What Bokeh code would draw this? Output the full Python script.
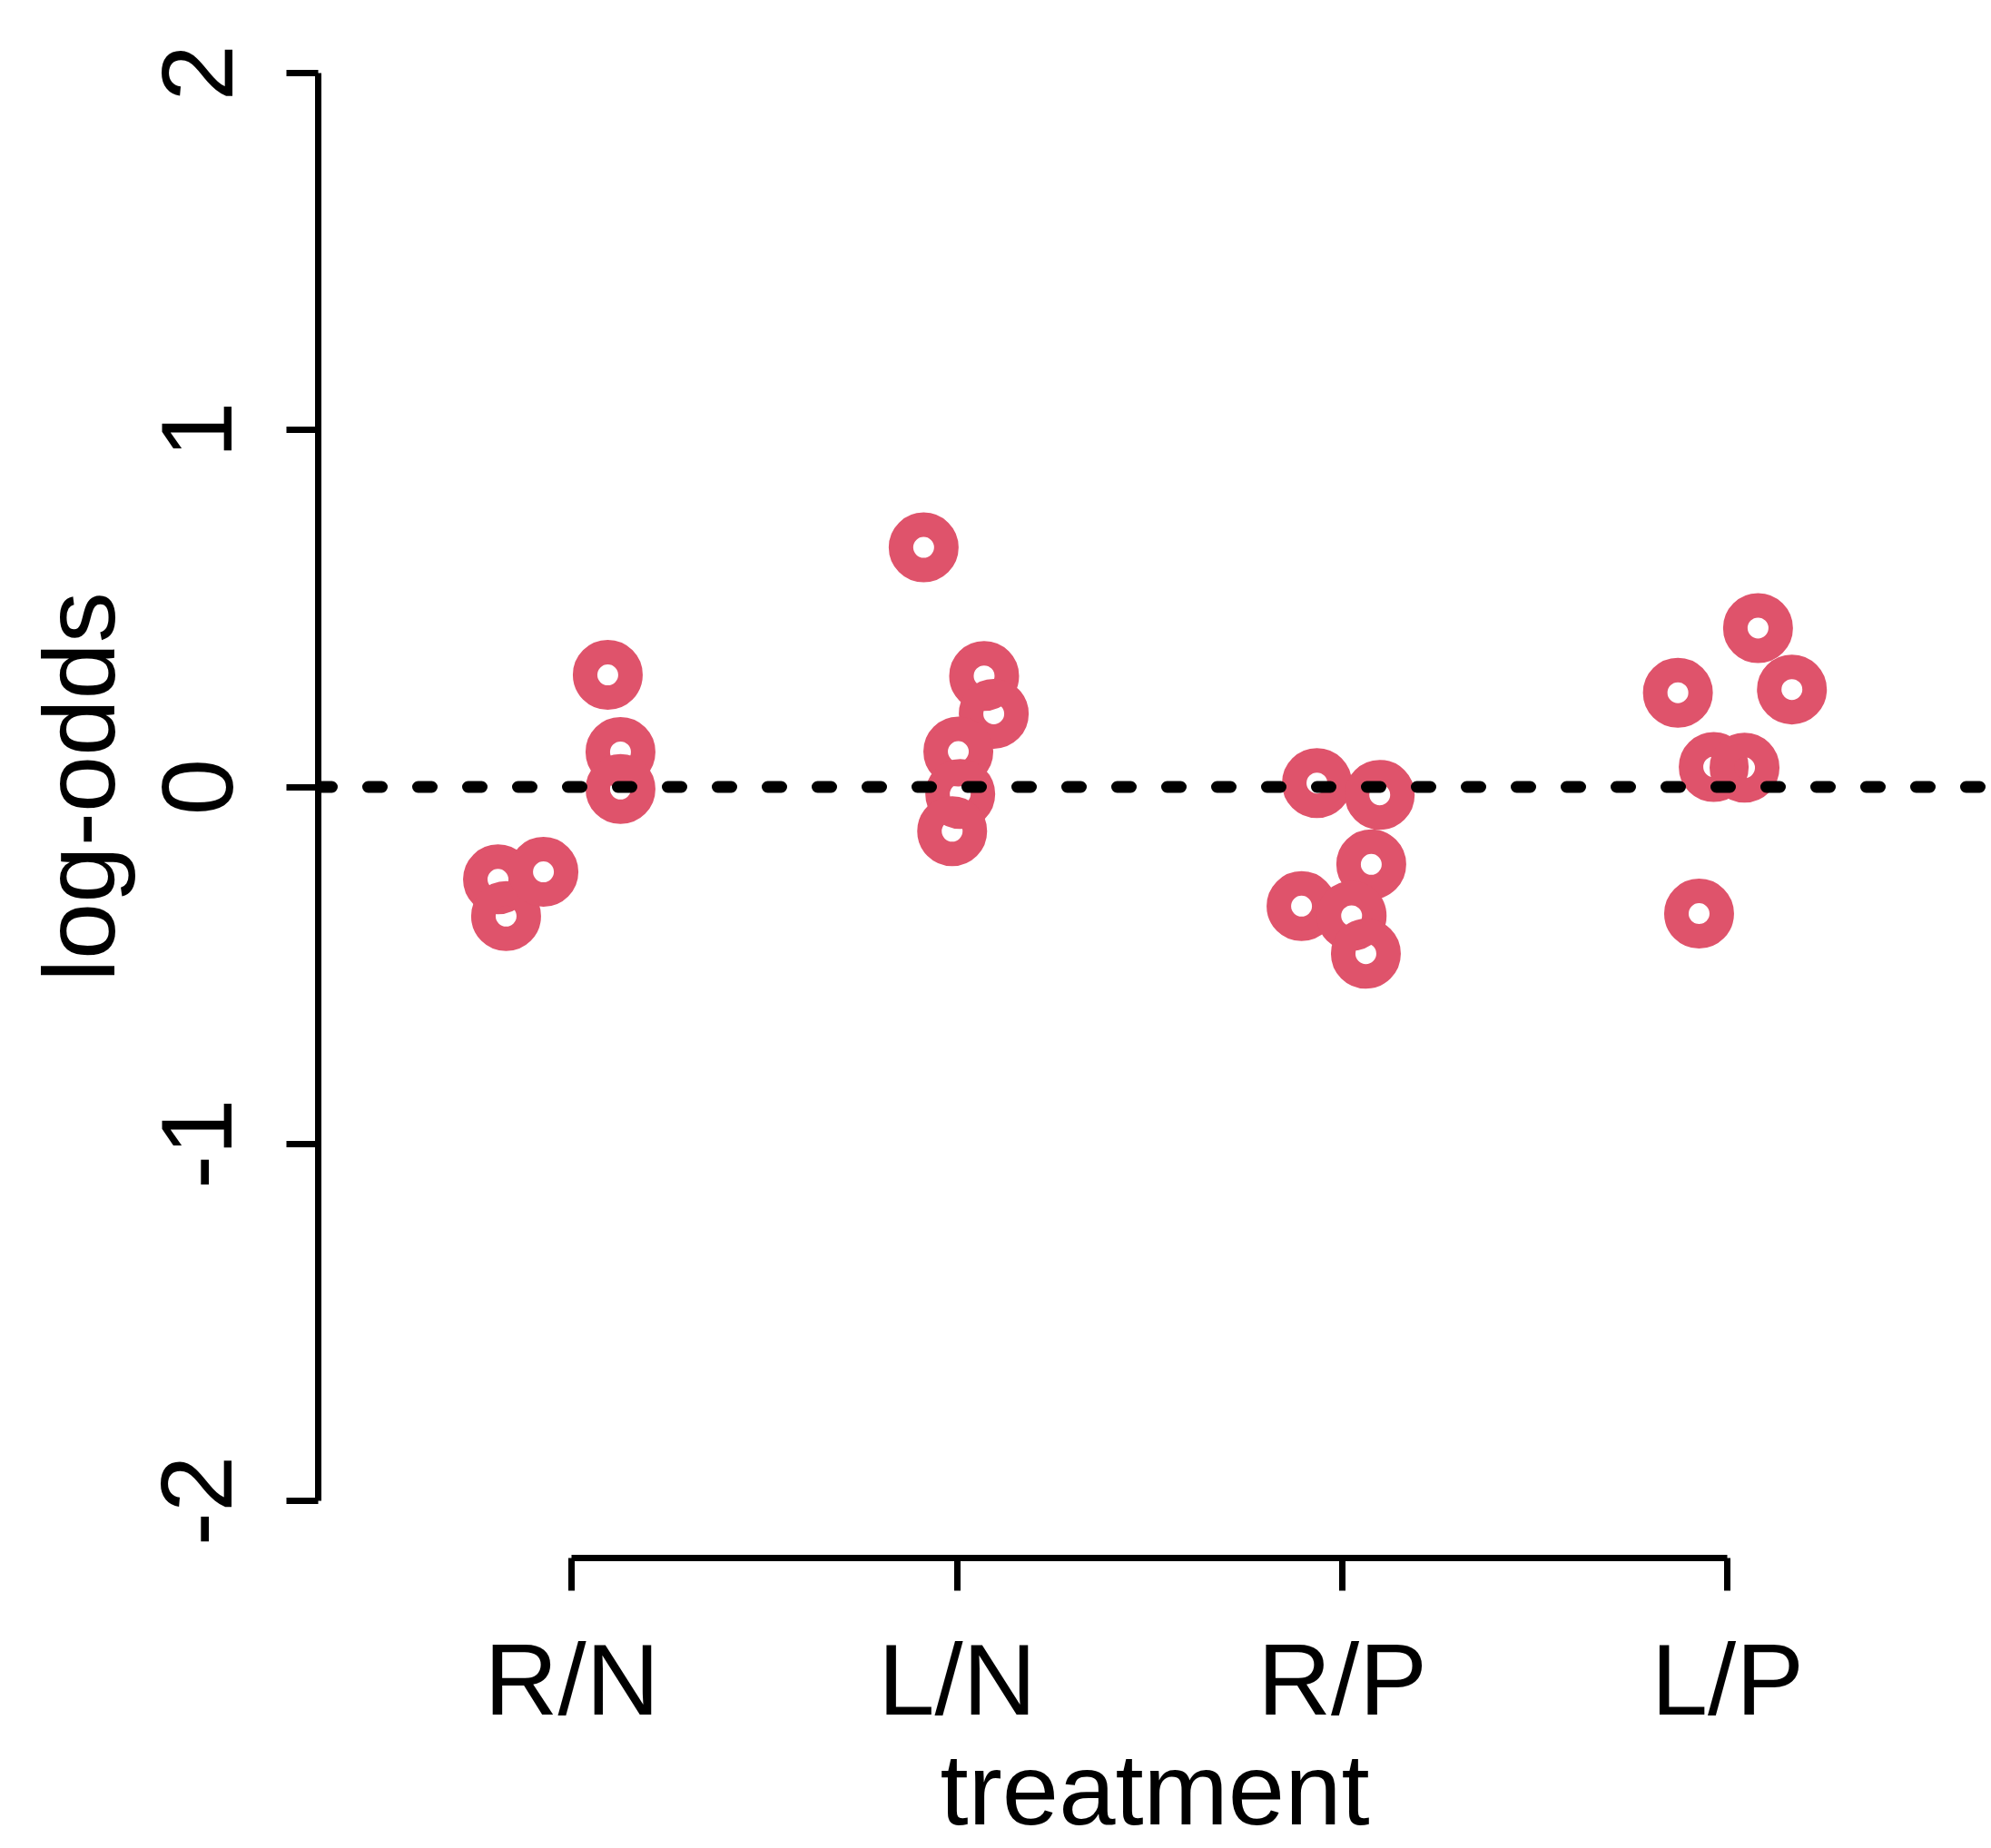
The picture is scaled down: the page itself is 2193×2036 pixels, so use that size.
from bokeh.plotting import figure
from bokeh.models import Range1d, FixedTicker, Span
from bokeh.embed import file_html
from bokeh.resources import INLINE

# treatment groups and their positions on the horizontal axis
treatments = ["R/N", "L/N", "R/P", "L/P"]
treatment_pos = [1, 2, 3, 4]

# jittered horizontal positions and log-odds for each observation
pos_RN = [0.808, 0.829, 0.926, 1.093, 1.126, 1.126]
lo_RN = [-0.259, -0.362, -0.238, 0.314, 0.098, -0.006]

pos_LN = [1.913, 2.070, 2.095, 2.003, 2.008, 1.987]
lo_LN = [0.671, 0.311, 0.205, 0.099, -0.020, -0.124]

pos_RP = [2.934, 3.097, 3.075, 2.894, 3.024, 3.061]
lo_RP = [0.011, -0.022, -0.217, -0.334, -0.361, -0.467]

pos_LP = [3.871, 4.079, 4.167, 3.964, 4.044, 3.926]
lo_LP = [0.264, 0.445, 0.273, 0.056, 0.054, -0.355]

y_ticks = [-2, -1, 0, 1, 2]
y_tick_labels = ["-2", "-1", "0", "1", "2"]

FONT = "Liberation Sans"
FS = "112px"
POINT_COLOR = "#DF536B"

p = figure(
    width=2193, height=2036,
    output_backend="svg", toolbar_location=None,
    x_range=Range1d(0.3413, 4.685), y_range=Range1d(-2.16, 2.16),
    min_border_left=350, min_border_right=0,
    min_border_top=17, min_border_bottom=320,
)
p.outline_line_color = None
p.xgrid.visible = False
p.ygrid.visible = False
p.background_fill_color = "white"
p.border_fill_color = "white"

for ax in (p.xaxis[0], p.yaxis[0]):
    ax.axis_line_width = 7
    ax.axis_line_color = "black"
    ax.major_tick_line_width = 7
    ax.major_tick_line_color = "black"
    ax.major_tick_in = 0
    ax.minor_tick_in = 0
    ax.minor_tick_out = 0
    ax.major_label_text_font = FONT
    ax.major_label_text_font_size = FS
    ax.major_label_text_color = "black"
    ax.axis_label_text_font = FONT
    ax.axis_label_text_font_size = FS
    ax.axis_label_text_font_style = "normal"
    ax.axis_label_text_color = "black"

xa = p.xaxis[0]
xa.ticker = FixedTicker(ticks=treatment_pos)
xa.major_label_overrides = {k: v for k, v in zip(treatment_pos, treatments)}
xa.bounds = (treatment_pos[0], treatment_pos[-1])
xa.major_tick_out = 36
xa.major_label_standoff = 35
xa.axis_label = "treatment"
xa.axis_label_standoff = -7

ya = p.yaxis[0]
ya.ticker = FixedTicker(ticks=y_ticks)
ya.major_label_overrides = {k: v for k, v in zip(y_ticks, y_tick_labels)}
ya.bounds = (y_ticks[0], y_ticks[-1])
ya.major_tick_out = 35
ya.major_label_standoff = 60
ya.major_label_orientation = "vertical"
ya.axis_label = "log-odds"
ya.axis_label_standoff = 26

# reference line at zero log-odds
p.add_layout(Span(location=0, dimension="width", line_color="black",
                  line_width=13, line_dash="15 40", line_cap="round"))

xs = pos_RN + pos_LN + pos_RP + pos_LP
ys = lo_RN + lo_LN + lo_RP + lo_LP
p.scatter(xs, ys, marker="circle", size=50, fill_color=None,
          line_color=POINT_COLOR, line_width=27)

open("out.html", "w").write(file_html(p, INLINE))
